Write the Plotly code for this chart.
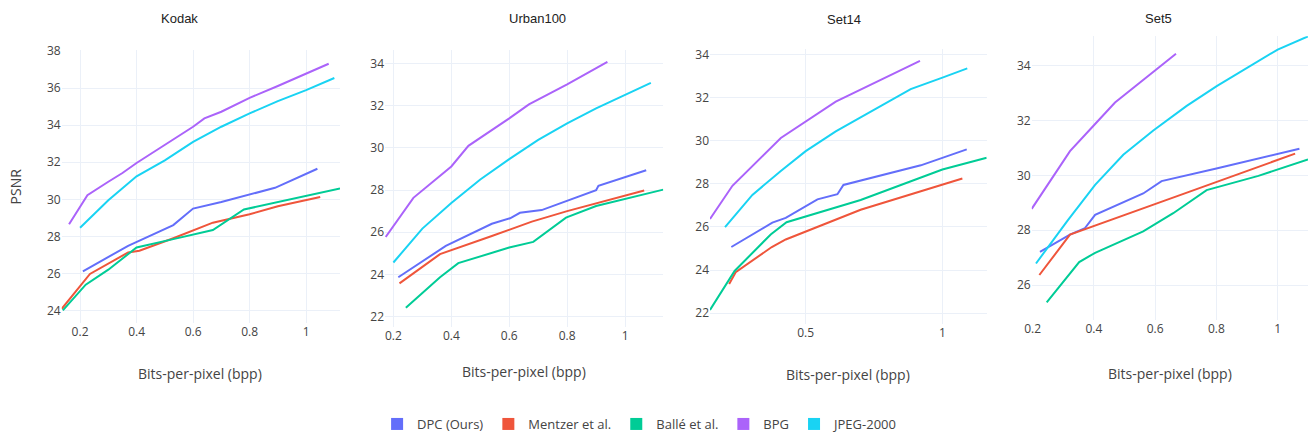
import plotly.graph_objects as go

# ---------------- data ----------------
methods = ["DPC (Ours)", "Mentzer et al.", "Ballé et al.", "BPG", "JPEG-2000"]
colors = ["#636EFA", "#EF553B", "#00CC96", "#AB63FA", "#19D3F3"]
datasets = ["Kodak", "Urban100", "Set14", "Set5"]

# Kodak
kodak_dpc_x = [0.21, 0.37, 0.53, 0.60, 0.70, 0.80, 0.89, 1.04]
kodak_dpc_y = [26.11, 27.49, 28.61, 29.50, 29.86, 30.26, 30.62, 31.65]
kodak_mentzer_x = [0.135, 0.235, 0.37, 0.41, 0.53, 0.67, 0.80, 0.90, 1.05]
kodak_mentzer_y = [24.09, 25.97, 27.13, 27.22, 27.90, 28.74, 29.19, 29.63, 30.13]
kodak_balle_x = [0.139, 0.22, 0.30, 0.40, 0.53, 0.67, 0.78, 0.90, 1.12]
kodak_balle_y = [24.00, 25.39, 26.20, 27.40, 27.85, 28.34, 29.45, 29.86, 30.58]
kodak_bpg_x = [0.161, 0.226, 0.30, 0.35, 0.40, 0.50, 0.60, 0.64, 0.70, 0.80, 0.90, 1.08]
kodak_bpg_y = [28.65, 30.22, 30.95, 31.42, 31.96, 32.94, 33.92, 34.37, 34.73, 35.48, 36.12, 37.32]
kodak_jpeg_x = [0.20, 0.30, 0.40, 0.50, 0.60, 0.70, 0.80, 0.90, 1.00, 1.10]
kodak_jpeg_y = [28.47, 29.95, 31.24, 32.10, 33.10, 33.92, 34.64, 35.30, 35.90, 36.55]

# Urban100
urban_dpc_x = [0.217, 0.381, 0.54, 0.603, 0.637, 0.712, 0.90, 0.908, 1.073]
urban_dpc_y = [23.86, 25.35, 26.40, 26.66, 26.92, 27.05, 27.99, 28.20, 28.94]
urban_mentzer_x = [0.221, 0.361, 0.54, 0.678, 0.80, 1.066]
urban_mentzer_y = [23.57, 24.96, 25.82, 26.50, 27.00, 27.98]
urban_balle_x = [0.243, 0.361, 0.424, 0.60, 0.683, 0.796, 0.90, 1.132]
urban_balle_y = [22.41, 23.86, 24.53, 25.27, 25.54, 26.69, 27.24, 28.02]
urban_bpg_x = [0.1735, 0.269, 0.40, 0.459, 0.60, 0.668, 0.80, 0.939]
urban_bpg_y = [25.77, 27.63, 29.12, 30.10, 31.40, 32.07, 33.02, 34.08]
urban_jpeg_x = [0.20, 0.30, 0.40, 0.50, 0.60, 0.70, 0.80, 0.90, 1.089]
urban_jpeg_y = [24.56, 26.17, 27.39, 28.50, 29.47, 30.38, 31.17, 31.88, 33.09]

# Set14
set14_dpc_x = [0.228, 0.378, 0.427, 0.543, 0.616, 0.638, 0.921, 1.089]
set14_dpc_y = [25.07, 26.20, 26.42, 27.28, 27.52, 27.95, 28.86, 29.60]
set14_mentzer_x = [0.22, 0.244, 0.376, 0.427, 0.701, 1.073]
set14_mentzer_y = [23.35, 23.90, 25.07, 25.42, 26.80, 28.25]
set14_balle_x = [0.15, 0.24, 0.372, 0.43, 0.701, 1.00, 1.162]
set14_balle_y = [22.15, 23.96, 25.65, 26.22, 27.25, 28.67, 29.21]
set14_bpg_x = [0.15, 0.232, 0.409, 0.61, 0.918]
set14_bpg_y = [26.37, 27.91, 30.13, 31.82, 33.71]
set14_jpeg_x = [0.205, 0.305, 0.409, 0.50, 0.61, 0.726, 0.884, 1.00, 1.091]
set14_jpeg_y = [25.99, 27.49, 28.60, 29.52, 30.44, 31.28, 32.40, 32.93, 33.36]

# Set5
set5_dpc_x = [0.224, 0.322, 0.371, 0.404, 0.561, 0.621, 0.80, 1.071]
set5_dpc_y = [27.21, 27.84, 28.08, 28.56, 29.34, 29.79, 30.25, 30.97]
set5_mentzer_x = [0.222, 0.322, 0.681, 1.057]
set5_mentzer_y = [26.37, 27.84, 29.28, 30.79]
set5_balle_x = [0.246, 0.352, 0.404, 0.561, 0.659, 0.768, 0.937, 1.099]
set5_balle_y = [25.37, 26.84, 27.18, 27.96, 28.62, 29.46, 29.98, 30.58]
set5_bpg_x = [0.197, 0.322, 0.404, 0.469, 0.668]
set5_bpg_y = [28.78, 30.88, 31.87, 32.65, 34.43]
set5_jpeg_x = [0.211, 0.314, 0.404, 0.496, 0.594, 0.703, 0.801, 1.00, 1.099]
set5_jpeg_y = [26.79, 28.35, 29.65, 30.75, 31.63, 32.53, 33.25, 34.58, 35.06]

series = {
    "Kodak": [(kodak_dpc_x, kodak_dpc_y), (kodak_mentzer_x, kodak_mentzer_y),
              (kodak_balle_x, kodak_balle_y), (kodak_bpg_x, kodak_bpg_y),
              (kodak_jpeg_x, kodak_jpeg_y)],
    "Urban100": [(urban_dpc_x, urban_dpc_y), (urban_mentzer_x, urban_mentzer_y),
                 (urban_balle_x, urban_balle_y), (urban_bpg_x, urban_bpg_y),
                 (urban_jpeg_x, urban_jpeg_y)],
    "Set14": [(set14_dpc_x, set14_dpc_y), (set14_mentzer_x, set14_mentzer_y),
              (set14_balle_x, set14_balle_y), (set14_bpg_x, set14_bpg_y),
              (set14_jpeg_x, set14_jpeg_y)],
    "Set5": [(set5_dpc_x, set5_dpc_y), (set5_mentzer_x, set5_mentzer_y),
             (set5_balle_x, set5_balle_y), (set5_bpg_x, set5_bpg_y),
             (set5_jpeg_x, set5_jpeg_y)],
}

x_title = "Bits-per-pixel (bpp)"
y_title = "PSNR"

# ---------------- layout geometry (pixels) ----------------
W, H = 1309, 439
# plot boxes: left, right, top, bottom (px)
boxes = {
    "Kodak": (61.7, 340.0, 50.7, 326.0),
    "Urban100": (385.0, 663.3, 50.0, 330.0),
    "Set14": (710.0, 986.7, 49.0, 326.7),
    "Set5": (1031.7, 1308.0, 36.7, 323.0),
}
x_ranges = {"Kodak": [0.135, 1.120], "Urban100": [0.171, 1.132],
            "Set14": [0.150, 1.162], "Set5": [0.197, 1.099]}
y_ranges = {"Kodak": [23.32, 38.05], "Urban100": [21.5, 34.67],
            "Set14": [21.51, 34.28], "Set5": [24.73, 35.06]}
x_dticks = {"Kodak": 0.2, "Urban100": 0.2, "Set14": 0.5, "Set5": 0.2}
title_pos = {"Kodak": (179, 19), "Urban100": (537, 19), "Set14": (844, 20), "Set5": (1158, 19)}
xtitle_pos = {"Kodak": (200.3, 376.7), "Urban100": (524.3, 375.0),
              "Set14": (847.8, 378.3), "Set5": (1170.3, 376.7)}

tick_color = "#444"
grid_color = "#EBF0F8"

fig = go.Figure()
layout_axes = {}
annotations = []

for i, ds in enumerate(datasets):
    n = "" if i == 0 else str(i + 1)
    xa, ya = "x" + n, "y" + n
    for j, (xs, ys) in enumerate(series[ds]):
        fig.add_trace(go.Scatter(
            x=xs, y=ys, mode="lines", name=methods[j],
            line=dict(color=colors[j], width=2),
            xaxis=xa, yaxis=ya, showlegend=False, legendgroup=methods[j]))
    l, r, t, b = boxes[ds]
    layout_axes["xaxis" + n] = dict(
        domain=[l / W, r / W], anchor=ya, range=x_ranges[ds],
        tick0=0, dtick=x_dticks[ds], showgrid=True, gridcolor=grid_color,
        zeroline=False, showline=False, ticks="", automargin=False,
        tickfont=dict(family="Open Sans", size=12, color=tick_color))
    layout_axes["yaxis" + n] = dict(
        domain=[1 - b / H, 1 - t / H], anchor=xa, range=y_ranges[ds],
        tick0=0, dtick=2, showgrid=True, gridcolor=grid_color,
        zeroline=False, showline=False, ticks="", automargin=False,
        tickfont=dict(family="Open Sans", size=12, color=tick_color))
    tx, ty = title_pos[ds]
    annotations.append(dict(text=ds, x=tx / W, y=1 - ty / H, xref="paper", yref="paper",
                            xanchor="center", yanchor="middle", showarrow=False,
                            font=dict(family="Liberation Sans, Arial", size=13, color="#222")))
    ax_, ay_ = xtitle_pos[ds]
    annotations.append(dict(text=x_title, x=ax_ / W, y=1 - ay_ / H, xref="paper", yref="paper",
                            xanchor="center", yanchor="middle", showarrow=False,
                            font=dict(family="Open Sans", size=14, color=tick_color)))

annotations.append(dict(text=y_title, x=15.8 / W, y=1 - 188.3 / H, xref="paper", yref="paper",
                        xanchor="center", yanchor="middle", showarrow=False, textangle=-90,
                        font=dict(family="Open Sans", size=14, color=tick_color)))

# legend entries drawn as square swatches
for j, m in enumerate(methods):
    fig.add_trace(go.Bar(x=[None], y=[None], name=m, marker=dict(color=colors[j], line=dict(width=0)),
                         xaxis="x", yaxis="y", showlegend=True, legendgroup=m))

fig.update_layout(
    template="plotly_white",
    width=W, height=H,
    margin=dict(l=0, r=0, t=0, b=0, pad=0),
    paper_bgcolor="white", plot_bgcolor="white",
    font=dict(family="Open Sans", size=12, color=tick_color),
    legend=dict(orientation="h", x=0.489, xanchor="center", y=1 - 428 / H, yanchor="middle",
                font=dict(family="Open Sans", size=13, color=tick_color),
                bgcolor="rgba(0,0,0,0)"),
    annotations=annotations,
    **layout_axes,
)

fig.write_html(
    "out.html",
    include_plotlyjs=True,
    config={"displayModeBar": False},
    post_script="document.body.style.margin='0';document.body.style.overflow='hidden';",
)
